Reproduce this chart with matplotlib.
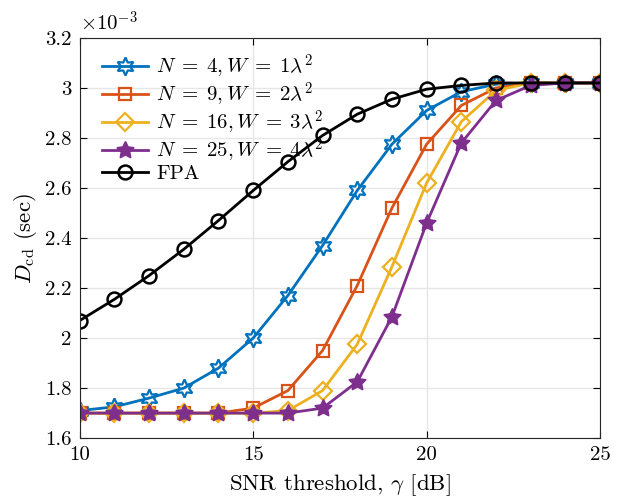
import matplotlib

matplotlib.use("Agg")
import matplotlib.pyplot as plt
from matplotlib.ticker import FuncFormatter

plt.rcParams["font.family"] = "serif"
plt.rcParams["font.serif"] = ["cmr10", "DejaVu Serif"]
plt.rcParams["mathtext.fontset"] = "cm"
plt.rcParams["axes.unicode_minus"] = False

# SNR threshold (dB)
snr_db = [10, 11, 12, 13, 14, 15, 16, 17, 18, 19, 20, 21, 22, 23, 24, 25]

# D_cd in units of 1e-3 s
d_n4 = [1.71, 1.725, 1.76, 1.80, 1.88, 2.00, 2.17, 2.37, 2.59, 2.775, 2.91, 2.985, 3.015, 3.02, 3.02, 3.02]
d_n9 = [1.70, 1.70, 1.70, 1.70, 1.70, 1.72, 1.79, 1.95, 2.21, 2.52, 2.775, 2.93, 3.00, 3.02, 3.02, 3.02]
d_n16 = [1.70, 1.70, 1.70, 1.70, 1.70, 1.70, 1.71, 1.79, 1.975, 2.285, 2.62, 2.865, 2.99, 3.02, 3.02, 3.02]
d_n25 = [1.70, 1.70, 1.70, 1.70, 1.70, 1.70, 1.70, 1.72, 1.825, 2.085, 2.46, 2.78, 2.95, 3.01, 3.02, 3.02]
d_fpa = [2.07, 2.155, 2.25, 2.355, 2.47, 2.59, 2.705, 2.81, 2.895, 2.955, 2.995, 3.01, 3.02, 3.02, 3.02, 3.02]

labels = [
    r"$N\;=\;4, W\;=\;1\lambda^2$",
    r"$N\;=\;9, W\;=\;2\lambda^2$",
    r"$N\;=\;16, W\;=\;3\lambda^2$",
    r"$N\;=\;25, W\;=\;4\lambda^2$",
    "FPA",
]

FS_TICK = 15
FS_LABEL = 16.5

fig = plt.figure(figsize=(6.18, 4.99), dpi=100)
ax = fig.add_axes([0.129, 0.122, 0.842, 0.802])

lw = 2.0
ax.plot(snr_db, d_n4, color="#0072BD", lw=lw, marker=(6, 1, 0), ms=13,
        mfc="none", mew=1.6, label=labels[0])
ax.plot(snr_db, d_n9, color="#D95319", lw=lw, marker="s", ms=9,
        mfc="none", mew=1.6, label=labels[1])
ax.plot(snr_db, d_n16, color="#EDB120", lw=lw, marker="D", ms=9,
        mfc="none", mew=1.6, label=labels[2])
ax.plot(snr_db, d_n25, color="#7E2F8E", lw=lw, marker=(5, 1, 0), ms=13,
        mfc="#7E2F8E", mew=1.0, label=labels[3])
ax.plot(snr_db, d_fpa, color="black", lw=lw, marker="o", ms=10,
        mfc="none", mew=1.8, label=labels[4])

ax.set_xlim(10, 25)
ax.set_ylim(1.6, 3.2)
ax.set_xticks([10, 15, 20, 25])
ax.set_yticks([1.6, 1.8, 2.0, 2.2, 2.4, 2.6, 2.8, 3.0, 3.2])
ax.yaxis.set_major_formatter(FuncFormatter(lambda v, _: f"{v:g}"))
ax.tick_params(direction="in", labelsize=FS_TICK, length=5, top=True, right=True,
               width=0.8, pad=6)
ax.grid(True, color="#e6e6e6", linewidth=1.0)
ax.set_axisbelow(True)
for s in ax.spines.values():
    s.set_linewidth(0.8)
    s.set_color("#262626")

ax.set_xlabel(r"SNR threshold, $\gamma$ [dB]", fontsize=FS_LABEL, labelpad=6)
ax.set_ylabel(r"$D_{\rm cd}$ (sec)", fontsize=FS_LABEL, labelpad=4)
ax.text(0.0, 1.008, r"$\times 10^{-3}$", transform=ax.transAxes,
        fontsize=FS_TICK, ha="left", va="bottom")

ax.legend(loc="upper left", frameon=False, fontsize=FS_TICK, handlelength=2.2,
          borderaxespad=0.3, labelspacing=0.0, handletextpad=0.4,
          bbox_to_anchor=(0.015, 1.0))

fig.savefig("out.png", dpi=100)
